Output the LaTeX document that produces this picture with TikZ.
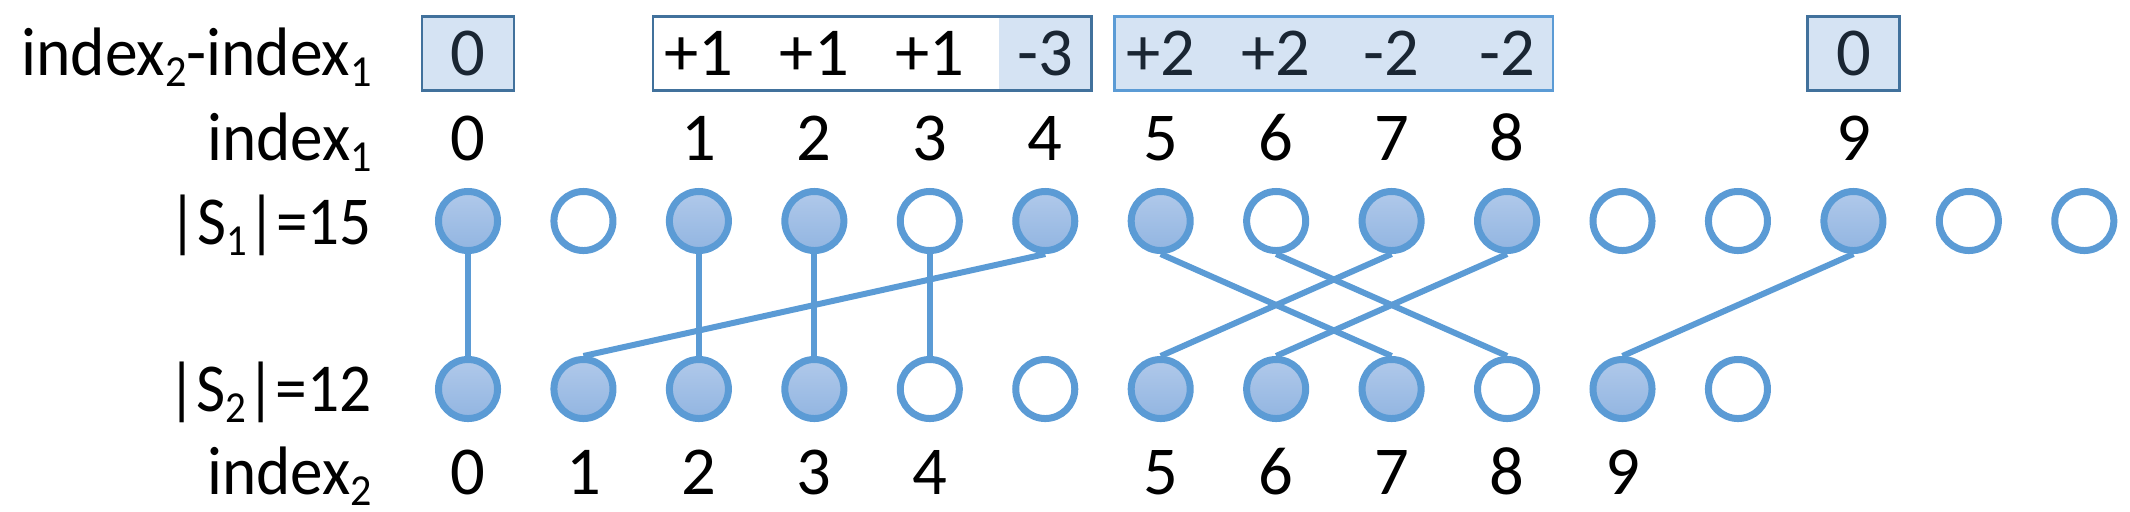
\documentclass[tikz,border=0pt]{standalone}
\usepackage{fontspec}
\setmainfont{Carlito}
\definecolor{cblue}{HTML}{5B9BD5}
\definecolor{dblue}{HTML}{41719C}
\definecolor{lfill}{HTML}{D5E3F3}
\definecolor{gtop}{HTML}{B0C9EA}
\definecolor{gbot}{HTML}{92B5E1}
\definecolor{navy}{HTML}{1A2633}
\newcommand\labfont{\fontsize{19.5}{23}\selectfont}
\newcommand\sbs[1]{\raisebox{-3.4pt}{\fontsize{12.6}{13}\selectfont #1}}
\newcommand\hsq[2]{\scalebox{#1}[1]{#2}}
\tikzset{
  dot/.style={circle, draw=cblue, line width=0.07cm, minimum size=0.59cm, inner sep=0pt},
  fdot/.style={dot, top color=gtop, bottom color=gbot},
  edot/.style={dot, fill=white},
  link/.style={draw=cblue, line width=0.06cm},
  lbl/.style={anchor=base east, inner sep=0pt, font=\labfont},
  num/.style={anchor=base, inner sep=0pt, font=\labfont},
  boxnum/.style={num, text=navy},
  darkframe/.style={draw=dblue, line width=0.027cm},
  lightframe/.style={draw=cblue, line width=0.027cm},
}
\begin{document}
\begin{tikzpicture}[x=0.01cm, y=-0.01cm]
\useasboundingbox (0,0) rectangle (2130,511);
\def\cx#1{468+115.45*#1}
% labels
\node[lbl] (l0) at (372.5,75) {\hsq{0.955}{index\sbs{2}-index\sbs{1}}};
\node[lbl] (l1) at (372.5,160) {\hsq{0.95}{index\sbs{1}}};
\node[lbl] (l2) at (372.5,244) {\hsq{0.92}{|S\sbs{1}|=15}};
\node[lbl] (l3) at (372.5,411) {\hsq{0.925}{|S\sbs{2}|=12}};
\node[lbl] (l4) at (372.5,494) {\hsq{0.95}{index\sbs{2}}};
% boxes
\draw[darkframe, fill=lfill] ({\cx{0}-46},16.7) rectangle ({\cx{0}+46},90.7);
\fill[lfill] ({\cx{5}-46},16.7) rectangle ({\cx{5}+46},90.7);
\draw[darkframe] ({\cx{2}-46},16.7) rectangle ({\cx{5}+46},90.7);
\draw[lightframe, fill=lfill] ({\cx{6}-46},16.7) rectangle ({\cx{9}+46},90.7);
\draw[darkframe, fill=lfill] ({\cx{12}-46},16.7) rectangle ({\cx{12}+46},90.7);
% box numbers
\node[boxnum] (d0) at ({\cx{0}},75) {0};
\node[num] (d1) at ({\cx{2}},75) {+1};
\node[num] (d2) at ({\cx{3}},75) {+1};
\node[num] (d3) at ({\cx{4}},75) {+1};
\node[boxnum] (d4) at ({\cx{5}},75) {-3};
\node[boxnum] (d5) at ({\cx{6}},75) {+2};
\node[boxnum] (d6) at ({\cx{7}},75) {+2};
\node[boxnum] (d7) at ({\cx{8}},75) {-2};
\node[boxnum] (d8) at ({\cx{9}},75) {-2};
\node[boxnum] (d9) at ({\cx{12}},75) {0};
% index1 labels
\foreach \c/\t in {0/0,2/1,3/2,4/3,5/4,6/5,7/6,8/7,9/8,12/9}
  \node[num] (ia-\t) at ({\cx{\c}},160) {\t};
% index2 labels
\foreach \c/\t in {0/0,1/1,2/2,3/3,4/4,6/5,7/6,8/7,9/8,10/9}
  \node[num] (ib-\t) at ({\cx{\c}},494) {\t};
% S1 circles
\foreach \i in {0,2,3,5,6,8,9,12}
  \node[fdot] (s1-\i) at ({\cx{\i}},221) {};
\foreach \i in {1,4,7,10,11,13,14}
  \node[edot] (s1-\i) at ({\cx{\i}},221) {};
% S2 circles
\foreach \i in {0,1,2,3,6,7,8,10}
  \node[fdot] (s2-\i) at ({\cx{\i}},389) {};
\foreach \i in {4,5,9,11}
  \node[edot] (s2-\i) at ({\cx{\i}},389) {};
% links
\foreach \a/\b in {0/0,5/1,2/2,3/3,4/4,6/8,7/9,8/6,9/7,12/10}
  \draw[link] (s1-\a.south) -- (s2-\b.north);
\end{tikzpicture}
\end{document}
